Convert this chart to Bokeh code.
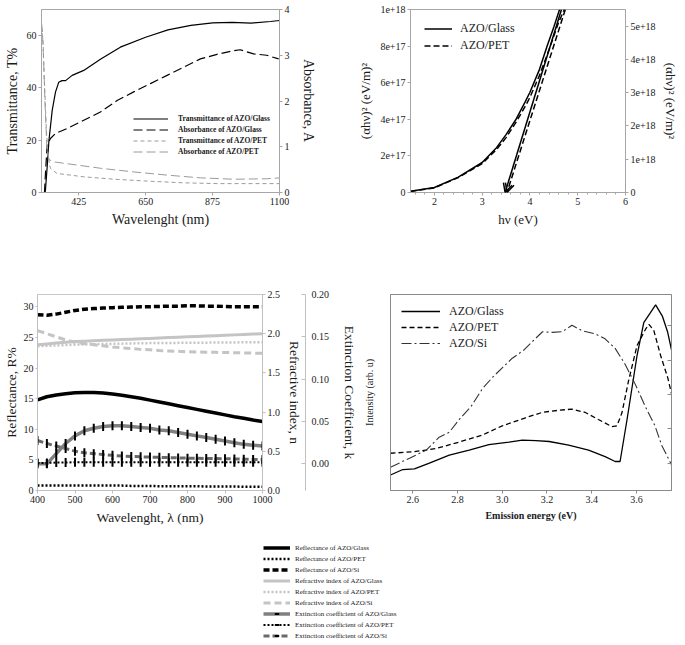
import numpy as np
from bokeh.plotting import figure
from bokeh.models import (Range1d, LinearAxis, FixedTicker, Legend, LegendItem, Arrow,
                          OpenHead, NumeralTickFormatter, CustomJSTickFormatter, SingleIntervalTicker)
from bokeh.layouts import column, row
from bokeh.embed import file_html
from bokeh.resources import INLINE

FONT = "Liberation Serif"

# ---------------- Panel 1 data: transmittance / absorbance ----------------
t_wl = [302, 310, 313, 319, 325, 336, 347, 358, 369, 381, 403, 442, 498, 565, 650, 725, 802, 875, 940, 1005, 1070, 1100]
t_glass = [0, 0, 0.5, 9.7, 19.9, 31.4, 38.4, 42.2, 42.8, 42.8, 44.8, 46.7, 51.0, 55.6, 59.4, 62.2, 63.9, 64.9, 65.1, 64.8, 65.4, 65.8]
a_wl = [310, 314, 319, 330, 347, 386, 442, 498, 554, 610, 666, 722, 778, 834, 890, 946, 968, 1013, 1057, 1097]
a_glass = [0.0, 0.5, 1.03, 1.18, 1.29, 1.40, 1.58, 1.76, 2.01, 2.2, 2.38, 2.56, 2.74, 2.92, 3.02, 3.1, 3.12, 3.03, 3.0, 2.92]
tp_wl = [302, 305, 310, 316, 322, 330, 352, 442, 554, 666, 778, 890, 1001, 1100]
t_pet = [61, 58, 42, 25, 14, 9.2, 7.3, 6.0, 5.0, 4.3, 3.7, 3.4, 3.4, 3.4]
ap_wl = [300, 303, 307, 312, 318, 325, 340, 386, 498, 610, 722, 834, 946, 1057, 1100]
a_pet = [3.7, 3.55, 2.9, 1.9, 1.0, 0.72, 0.67, 0.63, 0.53, 0.45, 0.38, 0.32, 0.29, 0.30, 0.32]
p1_xticks = [425, 650, 875, 1100]
p1_yticks = [0, 20, 40, 60]
p1_rticks = [0, 1, 2, 3, 4]

# ---------------- Panel 2 data: Tauc plot ----------------
e_glass = [1.5, 2.0, 2.5, 3.0, 3.3, 3.5, 3.7, 3.9, 4.0, 4.2, 4.36, 4.5, 4.62]
g_glass = [0.07e17, 0.27e17, 0.84e17, 1.64e17, 2.45e17, 3.16e17, 3.96e17, 4.95e17, 5.48e17, 6.73e17, 8.0e17, 9.05e17, 10.0e17]
e_pet = [1.5, 2.0, 2.5, 3.0, 3.3, 3.5, 3.7, 3.9, 4.0, 4.2, 4.4, 4.6, 4.72]
g_pet = [0.06e17, 0.25e17, 0.82e17, 1.58e17, 2.35e17, 3.0e17, 3.8e17, 4.7e17, 5.2e17, 6.4e17, 7.8e17, 9.3e17, 10.0e17]
glass_fit_x = [4.66, 3.48]
glass_fit_y = [1.0e18, 0.0]
pet_fit_x = [4.74, 3.52]
pet_fit_y = [1.0e18, 0.0]
p2_yticks = [0, 2e17, 4e17, 6e17, 8e17, 1e18]
p2_rticks = [0, 1e18, 2e18, 3e18, 4e18, 5e18]

# ---------------- Panel 3 data: optical constants ----------------
wl = [400, 425, 450, 475, 500, 525, 550, 575, 600, 625, 650, 675, 700, 725, 750, 775, 800, 825, 850, 875, 900, 925, 950, 975, 1000]
r_glass = [14.8, 15.3, 15.6, 15.8, 15.95, 16.0, 16.0, 15.9, 15.75, 15.55, 15.3, 15.05, 14.75, 14.45, 14.15, 13.85, 13.55, 13.25, 12.95, 12.65, 12.35, 12.05, 11.8, 11.5, 11.25]
r_pet = [0.8, 0.8, 0.8, 0.8, 0.8, 0.8, 0.8, 0.8, 0.8, 0.8, 0.75, 0.75, 0.75, 0.7, 0.7, 0.7, 0.7, 0.7, 0.65, 0.65, 0.65, 0.65, 0.6, 0.6, 0.6]
r_si = [28.7, 28.6, 28.8, 29.1, 29.4, 29.6, 29.7, 29.8, 29.85, 29.9, 29.95, 30.0, 30.0, 30.05, 30.1, 30.1, 30.15, 30.15, 30.1, 30.1, 30.05, 30.0, 30.0, 30.0, 30.0]
n_glass = [1.86, 1.87, 1.88, 1.89, 1.90, 1.905, 1.91, 1.915, 1.92, 1.925, 1.93, 1.935, 1.94, 1.945, 1.95, 1.955, 1.96, 1.965, 1.97, 1.975, 1.98, 1.985, 1.99, 1.995, 2.0]
n_pet = [1.84, 1.845, 1.85, 1.855, 1.86, 1.863, 1.866, 1.868, 1.87, 1.873, 1.876, 1.878, 1.88, 1.881, 1.882, 1.883, 1.884, 1.885, 1.886, 1.887, 1.888, 1.889, 1.89, 1.89, 1.89]
n_si = [2.04, 2.00, 1.96, 1.92, 1.89, 1.875, 1.86, 1.845, 1.83, 1.82, 1.81, 1.80, 1.795, 1.785, 1.78, 1.775, 1.77, 1.767, 1.764, 1.762, 1.76, 1.757, 1.755, 1.752, 1.75]
k_glass = [0.000, 0.000, 0.012, 0.024, 0.033, 0.039, 0.042, 0.044, 0.045, 0.045, 0.044, 0.043, 0.042, 0.040, 0.039, 0.037, 0.035, 0.033, 0.031, 0.029, 0.027, 0.025, 0.023, 0.022, 0.021]
k_pet = [0.001, 0.001, 0.0015, 0.0015, 0.002, 0.002, 0.002, 0.002, 0.002, 0.002, 0.002, 0.002, 0.002, 0.002, 0.002, 0.002, 0.002, 0.002, 0.002, 0.002, 0.002, 0.002, 0.002, 0.002, 0.002]
k_si = [0.0276, 0.024, 0.021, 0.018, 0.015, 0.013, 0.012, 0.011, 0.010, 0.0093, 0.0087, 0.0083, 0.008, 0.0077, 0.0073, 0.007, 0.0067, 0.0065, 0.0063, 0.0062, 0.006, 0.0058, 0.0055, 0.0052, 0.005]
p3_xticks = [400, 500, 600, 700, 800, 900, 1000]
p3_yticks = [0, 5, 10, 15, 20, 25, 30]
p3_nticks = [0.0, 0.5, 1.0, 1.5, 2.0, 2.5]
p3_kticks = [0.0, 0.05, 0.10, 0.15, 0.20]

# ---------------- Panel 4 data: photoluminescence ----------------
pl_glass_e = [2.50, 2.555, 2.607, 2.674, 2.763, 2.852, 2.94, 3.03, 3.09, 3.15, 3.21, 3.297, 3.386, 3.46, 3.505, 3.527, 3.558, 3.603, 3.633, 3.686, 3.716, 3.74, 3.757]
pl_glass = [0.079, 0.107, 0.11, 0.14, 0.181, 0.206, 0.234, 0.247, 0.257, 0.254, 0.25, 0.231, 0.206, 0.173, 0.148, 0.148, 0.361, 0.69, 0.856, 0.947, 0.89, 0.807, 0.718]
pl_pet_e = [2.50, 2.607, 2.703, 2.807, 2.911, 3.0, 3.104, 3.18, 3.25, 3.31, 3.37, 3.43, 3.49, 3.513, 3.535, 3.565, 3.603, 3.641, 3.656, 3.678, 3.708, 3.74, 3.757]
pl_pet = [0.19, 0.198, 0.214, 0.247, 0.283, 0.33, 0.371, 0.399, 0.409, 0.415, 0.399, 0.362, 0.326, 0.33, 0.395, 0.56, 0.74, 0.823, 0.848, 0.816, 0.69, 0.576, 0.495]
pl_si_e = [2.50, 2.585, 2.66, 2.718, 2.763, 2.807, 2.86, 2.911, 2.956, 3.0, 3.045, 3.097, 3.14, 3.18, 3.223, 3.268, 3.312, 3.357, 3.416, 3.46, 3.505, 3.55, 3.594, 3.64, 3.683, 3.713, 3.757]
pl_si = [0.119, 0.165, 0.206, 0.272, 0.297, 0.362, 0.428, 0.519, 0.577, 0.626, 0.675, 0.717, 0.766, 0.81, 0.807, 0.81, 0.843, 0.815, 0.799, 0.774, 0.725, 0.643, 0.544, 0.428, 0.33, 0.231, 0.132]
p4_xticks = [2.6, 2.8, 3.0, 3.2, 3.4, 3.6]
p4_rticks = [0.14, 0.315, 0.49, 0.665, 0.84]

GRAY_AX = "#a6a6a6"
TXT = "#1a1a1a"


def style_axis(ax, label_size="14px", tick_size="10px", color=GRAY_AX):
    ax.axis_label_text_font = FONT
    ax.axis_label_text_font_style = "normal"
    ax.axis_label_text_font_size = label_size
    ax.axis_label_text_color = TXT
    ax.major_label_text_font = FONT
    ax.major_label_text_font_size = tick_size
    ax.major_label_text_color = TXT
    ax.axis_line_color = color
    ax.major_tick_line_color = color
    ax.minor_tick_line_color = None
    ax.major_tick_out = 3
    ax.major_tick_in = 0
    ax.major_label_standoff = 2
    ax.axis_label_standoff = 4


def style_legend(lg, size, bold=False, gw=30, lh=11, standoff=8):
    lg.label_text_font = FONT
    lg.label_text_font_size = size
    lg.label_text_font_style = "bold" if bold else "normal"
    lg.label_text_color = TXT
    lg.glyph_width = gw
    lg.glyph_height = lh
    lg.label_height = lh
    lg.label_standoff = standoff
    lg.spacing = 0
    lg.padding = 0
    lg.margin = 0
    lg.border_line_alpha = 0
    lg.background_fill_alpha = 0


# ======================= Panel 1 =======================
p1 = figure(width=340, height=240, x_range=Range1d(300, 1100), y_range=Range1d(0, 70),
            output_backend="svg", toolbar_location=None,
            min_border_left=41, min_border_right=61, min_border_top=9, min_border_bottom=48)
p1.extra_y_ranges = {"abs": Range1d(0, 4)}
p1.add_layout(LinearAxis(y_range_name="abs", axis_label="Absorbance, A"), "right")
p1.grid.visible = False
p1.outline_line_color = GRAY_AX
p1.xaxis.axis_label = "Wavelenght (nm)"
p1.yaxis[0].axis_label = "Transmittance, T%"
p1.xaxis.ticker = FixedTicker(ticks=p1_xticks)
p1.yaxis[0].ticker = FixedTicker(ticks=p1_yticks)
p1.yaxis[1].ticker = FixedTicker(ticks=p1_rticks)
for ax in p1.xaxis + p1.yaxis:
    style_axis(ax)
p1.yaxis[1].axis_label_standoff = 8

r_tg = p1.line(t_wl, t_glass, color="black", line_width=1.2)
r_ag = p1.line(a_wl, a_glass, y_range_name="abs", color="black", line_width=1.2, line_dash="9 4")
r_tp = p1.line(tp_wl, t_pet, color="#9a9a9a", line_width=1, line_dash="4 3")
r_ap = p1.line(ap_wl, a_pet, y_range_name="abs", color="#9a9a9a", line_width=1, line_dash="9 4")
lg1 = Legend(items=[LegendItem(label="Transmittance of AZO/Glass", renderers=[r_tg]),
                    LegendItem(label="Absorbance of AZO/Glass", renderers=[r_ag]),
                    LegendItem(label="Transmittance of AZO/PET", renderers=[r_tp]),
                    LegendItem(label="Absorbance of AZO/PET", renderers=[r_ap])],
             location=(92, 35))
style_legend(lg1, "7.5px", bold=True, gw=35, lh=11, standoff=10)
p1.add_layout(lg1, "center")

# ======================= Panel 2 =======================
p2 = figure(width=345, height=240, x_range=Range1d(1.5, 6), y_range=Range1d(0, 1e18),
            output_backend="svg", toolbar_location=None,
            min_border_left=70, min_border_right=60, min_border_top=6, min_border_bottom=48)
p2.extra_y_ranges = {"r": Range1d(0, 5.5e18)}
p2.add_layout(LinearAxis(y_range_name="r", axis_label="(αhν)² (eV/m)²"), "right")
p2.grid.visible = False
p2.outline_line_color = GRAY_AX
p2.xaxis.axis_label = "hν (eV)"
p2.yaxis[0].axis_label = "(αhν)² (eV/m)²"
p2.xaxis.ticker = SingleIntervalTicker(interval=1, num_minor_ticks=5)
p2.yaxis[0].ticker = FixedTicker(ticks=p2_yticks)
p2.yaxis[1].ticker = FixedTicker(ticks=p2_rticks)
fmt = CustomJSTickFormatter(code="return tick == 0 ? '0' : tick.toExponential(0);")
p2.yaxis[0].formatter = fmt
p2.yaxis[1].formatter = fmt
for ax in p2.xaxis + p2.yaxis:
    style_axis(ax, label_size="13px")
p2.xaxis.minor_tick_line_color = GRAY_AX
p2.xaxis.minor_tick_out = 2
p2.xaxis.minor_tick_in = 0

r_g2 = p2.line(e_glass, g_glass, color="black", line_width=1.5)
r_p2 = p2.line(e_pet, g_pet, color="black", line_width=1.5, line_dash="6 3")
p2.add_layout(Arrow(end=OpenHead(size=9, line_width=1.5, line_color="black"),
                    x_start=glass_fit_x[0], y_start=glass_fit_y[0],
                    x_end=glass_fit_x[1], y_end=glass_fit_y[1],
                    line_width=1.5, line_color="black"))
p2.add_layout(Arrow(end=OpenHead(size=9, line_width=1.5, line_color="black"),
                    x_start=pet_fit_x[0], y_start=pet_fit_y[0],
                    x_end=pet_fit_x[1], y_end=pet_fit_y[1],
                    line_width=1.5, line_color="black", line_dash="6 3"))
lg2 = Legend(items=[LegendItem(label="AZO/Glass", renderers=[r_g2]),
                    LegendItem(label="AZO/PET", renderers=[r_p2])],
             location=(14, 138))
style_legend(lg2, "12px", gw=28, lh=17, standoff=8)
p2.add_layout(lg2, "center")

# ======================= Panel 3 =======================
LG = "#c4c4c4"
p3 = figure(width=360, height=300, x_range=Range1d(400, 1000), y_range=Range1d(0, 32),
            output_backend="svg", toolbar_location=None,
            min_border_left=32, min_border_right=96, min_border_top=54, min_border_bottom=50)
p3.extra_y_ranges = {"n": Range1d(0, 2.5), "k": Range1d(-0.0315, 0.2)}
ax_n = LinearAxis(y_range_name="n", axis_label="Refractive index, n",
                  ticker=FixedTicker(ticks=p3_nticks), formatter=NumeralTickFormatter(format="0.0"))
ax_k = LinearAxis(y_range_name="k", axis_label="Extinction Coefficient, k",
                  ticker=FixedTicker(ticks=p3_kticks), formatter=NumeralTickFormatter(format="0.00"))
p3.add_layout(ax_n, "right")
p3.add_layout(ax_k, "right")
p3.grid.visible = False
p3.outline_line_color = "#c8c8c8"
p3.xaxis.axis_label = "Wavelenght, λ (nm)"
p3.yaxis[0].axis_label = "Reflectance, R%"
p3.xaxis.ticker = FixedTicker(ticks=p3_xticks)
p3.yaxis[0].ticker = FixedTicker(ticks=p3_yticks)
for ax in p3.xaxis + p3.yaxis:
    style_axis(ax, label_size="13.5px", tick_size="10px", color="#c0c0c0")
p3.yaxis[0].major_tick_out = 2
p3.yaxis[0].major_label_standoff = 2
p3.yaxis[0].axis_label_standoff = 2
ax_k.major_tick_in = 4
ax_k.major_tick_out = 0
ax_k.major_label_standoff = 6
ax_k.axis_label_standoff = 10


def p3_series(fig):
    rs = {}
    rs["rg"] = fig.line(wl, r_glass, color="black", line_width=3.5)
    rs["rp"] = fig.line(wl, r_pet, color="black", line_width=2.5, line_dash="2 2")
    rs["rs"] = fig.line(wl, r_si, color="black", line_width=3.5, line_dash="6 3")
    rs["ng"] = fig.line(wl, n_glass, y_range_name="n", color=LG, line_width=3)
    rs["np"] = fig.line(wl, n_pet, y_range_name="n", color=LG, line_width=2.5, line_dash="2 2")
    rs["ns"] = fig.line(wl, n_si, y_range_name="n", color=LG, line_width=3, line_dash="7 4")
    rs["kg"] = fig.line(wl, k_glass, y_range_name="k", color="#808080", line_width=3.5)
    rs["kgm"] = fig.scatter(wl, k_glass, y_range_name="k", marker="dash", angle=np.pi / 2, size=9,
                            line_color="black", line_width=2)
    rs["kp"] = fig.line(wl, k_pet, y_range_name="k", color="black", line_width=2, line_dash="2 2")
    rs["kpm"] = fig.scatter(wl, k_pet, y_range_name="k", marker="dash", angle=np.pi / 2, size=9,
                            line_color="black", line_width=2)
    rs["ks"] = fig.line(wl, k_si, y_range_name="k", color="#6a6a6a", line_width=3, line_dash="6 3")
    rs["ksm"] = fig.scatter(wl, k_si, y_range_name="k", marker="dash", angle=np.pi / 2, size=9,
                            line_color="black", line_width=2)
    return rs


p3_series(p3)

# ======================= Panel 4 =======================
p4 = figure(width=325, height=300, x_range=Range1d(2.5, 3.757), y_range=Range1d(0, 1),
            output_backend="svg", toolbar_location=None,
            min_border_left=28, min_border_right=14, min_border_top=51, min_border_bottom=47)
p4.grid.visible = False
p4.outline_line_color = "#8a8a8a"
p4.xaxis.axis_label = "Emission energy (eV)"
p4.yaxis.axis_label = "Intensity (arb. u)"
p4.xaxis.ticker = FixedTicker(ticks=p4_xticks)
p4.xaxis.formatter = NumeralTickFormatter(format="0.0")
for ax in p4.xaxis + p4.yaxis:
    style_axis(ax, label_size="10px", tick_size="10px", color="#8a8a8a")
p4.xaxis.axis_label_text_font_style = "bold"
p4.yaxis.ticker = FixedTicker(ticks=[])
p4.yaxis.major_tick_out = 0
p4.yaxis.major_label_standoff = 0
p4.yaxis.axis_label_standoff = 16
ax4r = LinearAxis(ticker=FixedTicker(ticks=[], minor_ticks=p4_rticks))
ax4r.major_tick_in = 0
ax4r.major_tick_out = 0
ax4r.minor_tick_in = 4
ax4r.minor_tick_out = 0
ax4r.major_label_standoff = 0
ax4r.axis_line_color = "#8a8a8a"
ax4r.minor_tick_line_color = "#8a8a8a"
p4.add_layout(ax4r, "right")

r_g4 = p4.line(pl_glass_e, pl_glass, color="black", line_width=1.3)
r_p4 = p4.line(pl_pet_e, pl_pet, color="black", line_width=1.3, line_dash="5 3")
r_s4 = p4.line(pl_si_e, pl_si, color="#333333", line_width=1.1, line_dash="10 3 2 3")
lg4 = Legend(items=[LegendItem(label="AZO/Glass", renderers=[r_g4]),
                    LegendItem(label="AZO/PET", renderers=[r_p4]),
                    LegendItem(label="AZO/Si", renderers=[r_s4])],
             location=(11, 139))
style_legend(lg4, "12px", gw=39, lh=16, standoff=9)
p4.add_layout(lg4, "center")

# ======================= Panel 3 legend (below) =======================
p5 = figure(width=685, height=104, x_range=Range1d(0, 1), y_range=Range1d(0, 1),
            output_backend="svg", toolbar_location=None, x_axis_type=None, y_axis_type=None,
            min_border_left=263, min_border_right=0, min_border_top=2, min_border_bottom=0)
p5.extra_y_ranges = {"n": Range1d(0, 1), "k": Range1d(0, 1)}
p5.grid.visible = False
p5.outline_line_color = None
rs5 = p3_series(p5)
lg5 = Legend(items=[
    LegendItem(label="Reflectance of AZO/Glass", renderers=[rs5["rg"]]),
    LegendItem(label="Reflectance of AZO/PET", renderers=[rs5["rp"]]),
    LegendItem(label="Reflectance of AZO/Si", renderers=[rs5["rs"]]),
    LegendItem(label="Refractive index of AZO/Glass", renderers=[rs5["ng"]]),
    LegendItem(label="Refractive index of AZO/PET", renderers=[rs5["np"]]),
    LegendItem(label="Refractive index of AZO/Si", renderers=[rs5["ns"]]),
    LegendItem(label="Extinction coefficient of AZO/Glass", renderers=[rs5["kg"], rs5["kgm"]]),
    LegendItem(label="Extinction coefficient of AZO/PET", renderers=[rs5["kp"], rs5["kpm"]]),
    LegendItem(label="Extinction coefficient of AZO/Si", renderers=[rs5["ks"], rs5["ksm"]]),
], location="top_left")
style_legend(lg5, "7px", gw=27, lh=11, standoff=5)
p5.add_layout(lg5, "center")

layout = column(row(p1, p2), row(p3, p4), p5)
open("out.html", "w").write(file_html(layout, INLINE))
